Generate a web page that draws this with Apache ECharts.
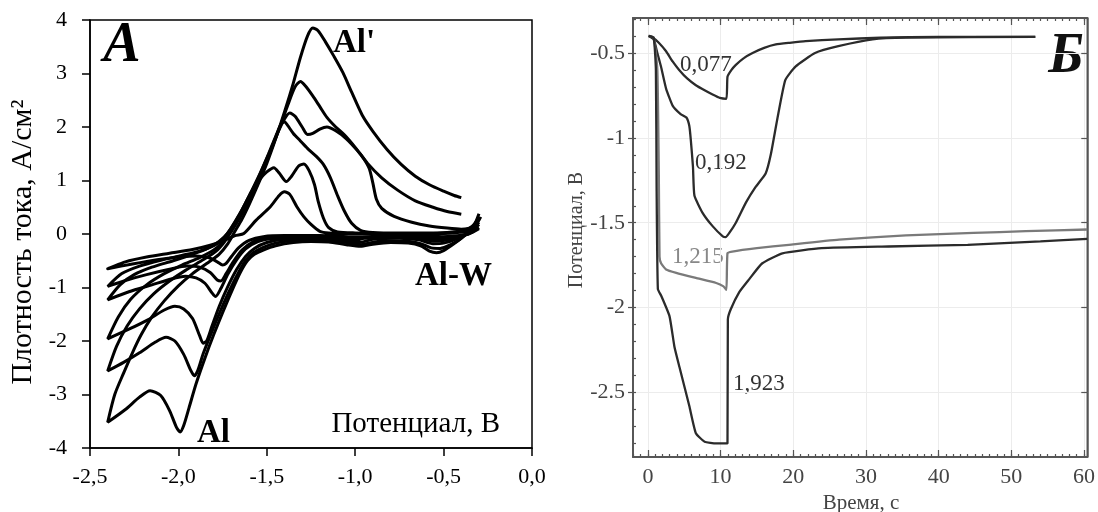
<!DOCTYPE html>
<html><head><meta charset="utf-8">
<script src="https://cdn.jsdelivr.net/npm/echarts@6/dist/echarts.min.js"></script>
<style>html,body{margin:0;padding:0;background:#fff}#c{width:1098px;height:512px}</style>
</head><body><div id="c"></div>
<script>
// ---- Panel A: cyclic voltammograms (E, V ; j, A/cm2) ----
const cvA = [[-0.30,0.38],[-0.33,0.15],[-0.38,-0.02],[-0.44,-0.18],[-0.50,-0.31],[-0.54,-0.35],[-0.58,-0.32],[-0.63,-0.22],[-0.70,-0.17],[-0.80,-0.16],[-0.90,-0.19],[-0.97,-0.23],[-1.05,-0.20],[-1.15,-0.15],[-1.25,-0.14],[-1.35,-0.16],[-1.45,-0.22],[-1.52,-0.30],[-1.57,-0.38],[-1.61,-0.50],[-1.65,-0.72],[-1.70,-1.08],[-1.75,-1.47],[-1.80,-1.88],[-1.85,-2.32],[-1.90,-2.80],[-1.94,-3.25],[-1.97,-3.58],[-1.99,-3.70],[-2.01,-3.62],[-2.05,-3.30],[-2.10,-3.02],[-2.16,-2.93],[-2.22,-3.05],[-2.30,-3.28],[-2.40,-3.52],[-2.36,-3.00],[-2.31,-2.60],[-2.26,-2.22],[-2.21,-1.88],[-2.15,-1.55],[-2.08,-1.25],[-2.00,-0.97],[-1.92,-0.74],[-1.84,-0.55],[-1.77,-0.38],[-1.72,-0.18],[-1.68,0.05],[-1.64,0.28],[-1.60,0.55],[-1.55,0.92],[-1.50,1.32],[-1.45,1.78],[-1.40,2.28],[-1.35,2.82],[-1.31,3.30],[-1.27,3.70],[-1.24,3.85],[-1.21,3.80],[-1.17,3.60],[-1.12,3.32],[-1.07,3.02],[-1.02,2.65],[-0.96,2.22],[-0.90,1.92],[-0.82,1.58],[-0.74,1.30],[-0.66,1.08],[-0.58,0.92],[-0.50,0.80],[-0.44,0.72],[-0.40,0.68]];
const cvB = [[-0.30,0.30],[-0.34,0.10],[-0.40,-0.08],[-0.46,-0.20],[-0.52,-0.27],[-0.57,-0.26],[-0.63,-0.18],[-0.72,-0.13],[-0.85,-0.13],[-0.97,-0.20],[-1.05,-0.16],[-1.20,-0.11],[-1.35,-0.12],[-1.45,-0.17],[-1.52,-0.25],[-1.58,-0.36],[-1.62,-0.50],[-1.66,-0.72],[-1.71,-1.05],[-1.76,-1.42],[-1.81,-1.82],[-1.86,-2.24],[-1.89,-2.55],[-1.91,-2.65],[-1.93,-2.55],[-1.97,-2.25],[-2.02,-2.00],[-2.07,-1.93],[-2.13,-2.02],[-2.22,-2.22],[-2.31,-2.40],[-2.40,-2.56],[-2.35,-2.10],[-2.29,-1.72],[-2.22,-1.40],[-2.14,-1.12],[-2.05,-0.88],[-1.96,-0.68],[-1.87,-0.50],[-1.79,-0.33],[-1.74,-0.15],[-1.70,0.05],[-1.66,0.26],[-1.62,0.50],[-1.57,0.85],[-1.52,1.22],[-1.47,1.62],[-1.42,2.05],[-1.38,2.42],[-1.34,2.75],[-1.31,2.85],[-1.28,2.76],[-1.24,2.58],[-1.20,2.38],[-1.16,2.18],[-1.11,2.00],[-1.06,1.85],[-1.00,1.62],[-0.93,1.32],[-0.85,1.05],[-0.76,0.82],[-0.66,0.62],[-0.56,0.50],[-0.48,0.42],[-0.40,0.37]];
const cvC = [[-0.30,0.22],[-0.35,0.05],[-0.42,-0.08],[-0.50,-0.17],[-0.56,-0.18],[-0.64,-0.11],[-0.75,-0.08],[-0.90,-0.10],[-0.98,-0.16],[-1.08,-0.11],[-1.25,-0.08],[-1.40,-0.10],[-1.50,-0.16],[-1.57,-0.27],[-1.62,-0.42],[-1.67,-0.66],[-1.72,-0.98],[-1.77,-1.36],[-1.81,-1.72],[-1.84,-2.00],[-1.86,-2.04],[-1.88,-1.90],[-1.92,-1.58],[-1.97,-1.40],[-2.02,-1.35],[-2.08,-1.42],[-2.17,-1.60],[-2.28,-1.78],[-2.40,-1.96],[-2.34,-1.55],[-2.27,-1.22],[-2.18,-0.95],[-2.08,-0.74],[-1.98,-0.58],[-1.88,-0.44],[-1.80,-0.30],[-1.75,-0.15],[-1.71,0.03],[-1.67,0.24],[-1.63,0.48],[-1.58,0.82],[-1.53,1.18],[-1.48,1.56],[-1.44,1.88],[-1.40,2.15],[-1.37,2.26],[-1.34,2.20],[-1.30,2.00],[-1.27,1.86],[-1.24,1.88],[-1.20,1.96],[-1.16,2.00],[-1.11,1.93],[-1.05,1.78],[-0.99,1.57],[-0.95,1.40],[-0.92,1.22],[-0.90,0.95],[-0.88,0.65],[-0.85,0.48],[-0.78,0.33],[-0.68,0.22],[-0.58,0.15],[-0.48,0.11],[-0.40,0.09],[-0.34,0.12],[-0.31,0.25]];
const cvD = [[-0.30,0.18],[-0.35,0.03],[-0.42,-0.06],[-0.50,-0.12],[-0.56,-0.13],[-0.65,-0.08],[-0.80,-0.06],[-0.95,-0.08],[-1.00,-0.12],[-1.10,-0.08],[-1.30,-0.06],[-1.45,-0.08],[-1.55,-0.14],[-1.62,-0.28],[-1.67,-0.48],[-1.72,-0.75],[-1.76,-1.02],[-1.79,-1.17],[-1.81,-1.10],[-1.85,-0.92],[-1.90,-0.82],[-1.96,-0.79],[-2.04,-0.84],[-2.15,-0.95],[-2.28,-1.08],[-2.40,-1.23],[-2.33,-0.95],[-2.25,-0.76],[-2.15,-0.62],[-2.03,-0.50],[-1.92,-0.38],[-1.83,-0.26],[-1.77,-0.14],[-1.72,0.02],[-1.68,0.22],[-1.64,0.45],[-1.59,0.78],[-1.54,1.12],[-1.49,1.50],[-1.45,1.82],[-1.42,2.05],[-1.40,2.10],[-1.38,2.02],[-1.35,1.88],[-1.31,1.74],[-1.27,1.60],[-1.22,1.45],[-1.18,1.30],[-1.14,1.05],[-1.10,0.72],[-1.06,0.42],[-1.02,0.20],[-0.97,0.07],[-0.90,0.03],[-0.75,0.02],[-0.60,0.02],[-0.48,0.03],[-0.40,0.06],[-0.34,0.14],[-0.30,0.30]];
const cvE = [[-0.30,0.12],[-0.36,0.00],[-0.45,-0.06],[-0.55,-0.09],[-0.65,-0.06],[-0.85,-0.05],[-1.00,-0.08],[-1.15,-0.05],[-1.35,-0.05],[-1.50,-0.08],[-1.58,-0.15],[-1.64,-0.30],[-1.69,-0.52],[-1.73,-0.74],[-1.76,-0.88],[-1.78,-0.86],[-1.82,-0.72],[-1.88,-0.62],[-1.95,-0.60],[-2.05,-0.66],[-2.18,-0.76],[-2.30,-0.87],[-2.40,-0.98],[-2.32,-0.74],[-2.22,-0.60],[-2.10,-0.49],[-1.98,-0.40],[-1.87,-0.31],[-1.79,-0.20],[-1.74,-0.06],[-1.70,0.12],[-1.66,0.34],[-1.62,0.58],[-1.58,0.82],[-1.54,1.02],[-1.50,1.16],[-1.46,1.24],[-1.43,1.14],[-1.39,0.98],[-1.36,1.08],[-1.32,1.27],[-1.29,1.31],[-1.26,1.18],[-1.23,0.92],[-1.21,0.62],[-1.18,0.30],[-1.15,0.12],[-1.10,0.04],[-1.00,0.02],[-0.80,0.01],[-0.60,0.01],[-0.45,0.03],[-0.37,0.08],[-0.32,0.16],[-0.29,0.32]];
const cvF = [[-0.30,0.10],[-0.36,0.00],[-0.45,-0.04],[-0.60,-0.05],[-0.80,-0.04],[-1.00,-0.05],[-1.20,-0.03],[-1.40,-0.03],[-1.52,-0.05],[-1.60,-0.12],[-1.66,-0.26],[-1.70,-0.42],[-1.73,-0.55],[-1.75,-0.58],[-1.78,-0.52],[-1.83,-0.44],[-1.90,-0.41],[-2.00,-0.43],[-2.12,-0.48],[-2.26,-0.56],[-2.40,-0.65],[-2.30,-0.52],[-2.18,-0.43],[-2.05,-0.36],[-1.92,-0.29],[-1.82,-0.21],[-1.74,-0.12],[-1.68,-0.03],[-1.63,0.01],[-1.56,0.26],[-1.48,0.51],[-1.43,0.72],[-1.40,0.79],[-1.37,0.74],[-1.33,0.51],[-1.29,0.32],[-1.25,0.18],[-1.20,0.05],[-1.15,0.02],[-1.00,0.01],[-0.80,0.00],[-0.60,0.00],[-0.45,0.02],[-0.36,0.06],[-0.31,0.14]];
const cvSeries = [cvA, cvB, cvC, cvD, cvE, cvF];
const cvXTicks = [-2.5, -2.0, -1.5, -1.0, -0.5, 0.0];

// ---- Panel Б: chronopotentiograms (t, s ; E, V) ----
const ch077 = [[0.1,-0.40],[0.7,-0.41],[1.5,-0.44],[2.5,-0.49],[3.4,-0.55],[4.3,-0.60],[5.4,-0.65],[6.6,-0.69],[7.8,-0.72],[8.9,-0.745],[9.9,-0.765],[10.8,-0.77],[10.95,-0.64],[11.5,-0.60],[12.1,-0.57],[13.2,-0.53],[14.4,-0.50],[16.0,-0.47],[17.6,-0.45],[19.5,-0.44],[21.7,-0.43],[26.2,-0.42],[32,-0.41],[40,-0.405],[53.3,-0.405]];
const ch192 = [[0.1,-0.40],[0.8,-0.42],[1.3,-0.50],[1.8,-0.58],[2.5,-0.71],[3.4,-0.81],[4.5,-0.86],[5.3,-0.88],[5.7,-0.93],[5.9,-1.01],[6.2,-1.17],[6.4,-1.34],[7.5,-1.44],[8.9,-1.52],[10.3,-1.58],[10.7,-1.585],[11.2,-1.56],[12.1,-1.50],[13.5,-1.38],[14.8,-1.29],[16.2,-1.21],[16.9,-1.10],[17.8,-0.89],[18.9,-0.66],[20.3,-0.58],[23.0,-0.50],[26.2,-0.46],[30.9,-0.42],[35.5,-0.41],[53.3,-0.405]];
const ch1215 = [[0.1,-0.40],[0.8,-0.41],[1.3,-0.60],[1.5,-1.20],[1.6,-1.70],[1.83,-1.74],[2.5,-1.775],[3.9,-1.795],[6.6,-1.825],[9.4,-1.855],[10.4,-1.875],[10.8,-1.895],[10.95,-1.68],[11.6,-1.67],[15,-1.65],[19.4,-1.63],[26.3,-1.60],[35.5,-1.575],[44.8,-1.56],[52,-1.55],[60.45,-1.54]];
const ch1923 = [[0.1,-0.40],[0.8,-0.41],[1.1,-0.60],[1.2,-1.30],[1.37,-1.89],[1.83,-1.93],[2.97,-2.05],[3.65,-2.23],[4.34,-2.35],[5.7,-2.58],[6.6,-2.74],[7.8,-2.79],[9.4,-2.80],[10.95,-2.80],[11.0,-2.07],[11.4,-2.01],[12.55,-1.91],[13.9,-1.835],[15.7,-1.74],[18.5,-1.68],[23.9,-1.65],[33.1,-1.64],[44,-1.63],[54,-1.61],[60.45,-1.595]];
const chXLabels = [0, 10, 20, 30, 40, 50, 60];
const chYLabels = [-2.5, -2, -1.5, -1, -0.5];
const chXMinor = []; for (let t = -2; t <= 60; t++) chXMinor.push(t);
const chYMinor = []; for (let v = -28; v <= -3; v++) chYMinor.push(v / 10);

const SERIF = '"Liberation Serif", "Times New Roman", serif';
const CH = { xmin: -2.05, xmax: 60.45, ymin: -2.88, ymax: -0.294 };
const grayAx = '#555';

function chX(pos, ticks, len, label, split) {
  return { gridIndex: 1, type: 'value', min: CH.xmin, max: CH.xmax, position: pos,
    axisLine: { show: true, onZero: false, lineStyle: { color: grayAx, width: 1.5 } },
    axisTick: { show: true, inside: true, length: len, customValues: ticks, lineStyle: { color: grayAx, width: 1.2 } },
    axisLabel: label ? { show: true, customValues: chXLabels, margin: 9, fontFamily: SERIF, fontSize: 22, color: '#444' } : { show: false },
    splitLine: { show: !!split, lineStyle: { color: '#ececec', width: 1 } } };
}
function chY(pos, ticks, len, inside, label, split) {
  return { gridIndex: 1, type: 'value', min: CH.ymin, max: CH.ymax, position: pos,
    axisLine: { show: true, onZero: false, lineStyle: { color: grayAx, width: 1.5 } },
    axisTick: { show: true, inside: inside, length: len, customValues: ticks, lineStyle: { color: grayAx, width: 1.2 } },
    axisLabel: label ? { show: true, customValues: chYLabels, margin: 8, fontFamily: SERIF, fontSize: 22, color: '#444' } : { show: false },
    splitLine: { show: !!split, lineStyle: { color: '#ececec', width: 1 } } };
}

const series = [];
cvSeries.forEach(d => series.push({ type: 'line', xAxisIndex: 0, yAxisIndex: 0, data: d, showSymbol: false, smooth: 0.25,
  lineStyle: { color: '#000', width: 3 }, silent: true }));
[[ch077, '#2b2b2b'], [ch192, '#2b2b2b'], [ch1215, '#7a7a7a'], [ch1923, '#2b2b2b']].forEach(([d, c]) =>
  series.push({ type: 'line', xAxisIndex: 1, yAxisIndex: 1, data: d, showSymbol: false, smooth: 0.15,
    lineStyle: { color: c, width: 2.3 }, silent: true }));

function txt(x, y, text, size, opts) {
  return Object.assign({ type: 'text', x: x, y: y, silent: true,
    style: Object.assign({ text: text, fontFamily: SERIF, fontSize: size, fill: '#000', align: 'left', verticalAlign: 'middle' }, opts && opts.style) },
    opts && opts.el);
}

const option = {
  animation: false,
  backgroundColor: '#fff',
  grid: [
    { left: 90, top: 20, width: 442, height: 428, show: true, borderColor: '#000', borderWidth: 1.5, backgroundColor: 'transparent' },
    { left: 633, top: 18, width: 457, height: 439, show: true, borderColor: grayAx, borderWidth: 1.5, backgroundColor: 'transparent' }
  ],
  xAxis: [
    { gridIndex: 0, type: 'value', min: -2.5, max: 0, interval: 0.5,
      axisLine: { show: true, onZero: false, lineStyle: { color: '#000', width: 1.5 } },
      axisTick: { show: true, inside: false, length: 8, customValues: cvXTicks, lineStyle: { color: '#000', width: 1.5 } },
      axisLabel: { show: true, customValues: cvXTicks, margin: 18, fontFamily: SERIF, fontSize: 22, color: '#000',
        formatter: v => v.toFixed(1).replace('.', ',') },
      splitLine: { show: false } },
    chX('bottom', chXLabels, 7, true, true),
    chX('bottom', chXMinor, 3, false, false),
    chX('top', chXLabels, 7, false, false),
    chX('top', chXMinor, 3, false, false)
  ],
  yAxis: [
    { gridIndex: 0, type: 'value', min: -4, max: 4, interval: 1,
      axisLine: { show: true, onZero: false, lineStyle: { color: '#000', width: 1.5 } },
      axisTick: { show: true, inside: false, length: 8, lineStyle: { color: '#000', width: 1.5 } },
      axisLabel: { show: true, margin: 23, fontFamily: SERIF, fontSize: 22, color: '#000' },
      splitLine: { show: false } },
    chY('left', chYLabels, 5, false, true, true),
    chY('left', chYMinor, 3, true, false, false),
    chY('right', chYLabels, 6, true, false, false)
  ],
  series: series,
  graphic: [
    txt(23, 242, 'Плотность тока, А/см²', 30, { style: { align: 'center' }, el: { rotation: Math.PI / 2 } }),
    txt(122, 47, 'А', 56, { style: { align: 'center', fontStyle: 'italic', fontWeight: 'bold' } }),
    txt(333, 43, "Al'", 33, { style: { fontWeight: 'bold' } }),
    txt(415, 276, 'Al-W', 33, { style: { fontWeight: 'bold' } }),
    txt(197, 433, 'Al', 33, { style: { fontWeight: 'bold' } }),
    txt(500, 424, 'Потенциал, В', 29, { style: { align: 'right' } }),
    txt(577, 230, 'Потенциал, В', 20, { style: { align: 'center', fill: '#444' }, el: { rotation: Math.PI / 2 } }),
    txt(861, 503, 'Время, с', 21, { style: { align: 'center', fill: '#444' } }),
    txt(1066, 58, 'Б', 56, { style: { align: 'center', fontStyle: 'italic', fontWeight: 'bold', fill: '#111' } }),
    txt(680, 65, '0,077', 23, { style: { fill: '#333' } }),
    txt(695, 163, '0,192', 23, { style: { fill: '#333' } }),
    txt(672, 257, '1,215', 23, { style: { fill: '#888' } }),
    txt(733, 384, '1,923', 23, { style: { fill: '#333' } })
  ]
};
const chart = echarts.init(document.getElementById('c'), null, { renderer: 'canvas' });
chart.setOption(option);
</script></body></html>
